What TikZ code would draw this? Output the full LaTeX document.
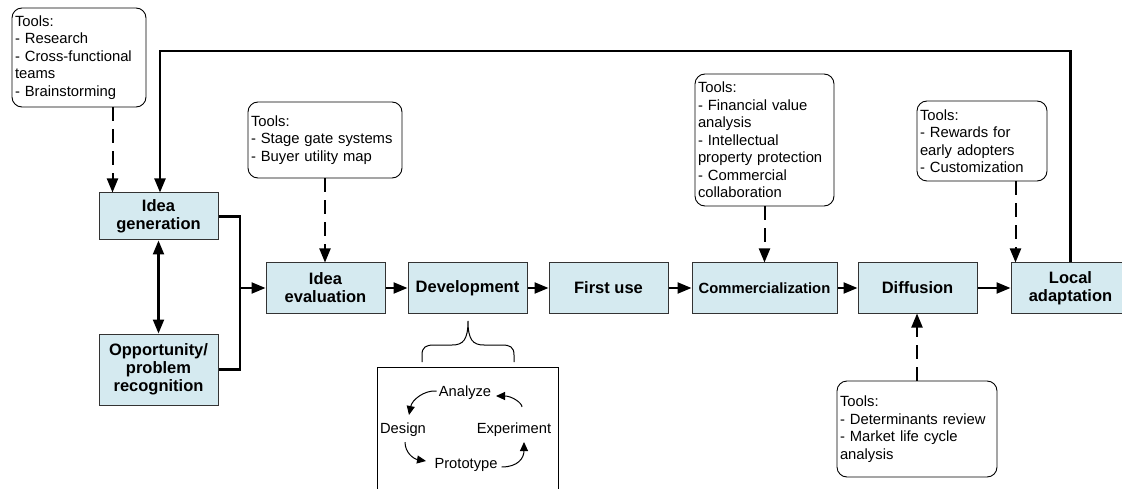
\documentclass[tikz,border=0pt]{standalone}
\usepackage{fontspec}
\setmainfont{Liberation Sans}
\usetikzlibrary{arrows.meta,calc}
\definecolor{boxfill}{RGB}{213,234,240}
\begin{document}
\begin{tikzpicture}[x=1pt,y=-1pt,
 proc/.style={draw=black!80, line width=1pt, fill=boxfill, minimum width=119pt, minimum height=50pt, align=center, inner sep=1pt, font=\fontsize{16.5}{18}\selectfont\bfseries},
 tool/.style={draw, line width=0.9pt, rounded corners=10pt, align=left, inner xsep=3pt, inner ysep=0pt, font=\fontsize{14.8}{17.5}\selectfont},
 arr/.style={line width=2.2pt, -{Triangle[length=14pt,width=11pt]}},
 line/.style={line width=2.2pt},
 darr/.style={line width=2.2pt, {Triangle[length=14pt,width=11pt]}-{Triangle[length=14pt,width=11pt]}},
 dsh/.style={line width=2pt, dash pattern=on 14pt off 8pt, -{Triangle[length=14pt,width=11pt]}},
 cyc/.style={font=\fontsize{14.7}{17}\selectfont, inner sep=1pt},
 carr/.style={line width=1pt, -{Triangle[length=9pt,width=8pt]}},
 thin/.style={line width=1pt},
]
\useasboundingbox (0,0) rectangle (1122,489);

% main process boxes
\node[proc, minimum height=47pt] (gen) at (158.5,216.5) {Idea\\generation};
\node[proc, minimum height=71pt] (opp) at (158.5,369.5) {Opportunity/\\problem\\recognition};
\node[proc] (eva) at (325.5,288) {Idea\\evaluation};
\node[proc] (dev) at (467.5,288) {Development};
\node[proc] (fir) at (608.5,288) {First use};
\node[proc, minimum width=145pt, font=\fontsize{14.8}{18}\selectfont\bfseries] (com) at (764.5,288) {Commercialization};
\node[proc] (dif) at (917.5,288) {Diffusion};
\node[proc] (loc) at (1070.5,288) {Local\\adaptation};

% tool boxes
\node[tool, text width=128pt, minimum height=99pt] (t1) at (79,57.5) {Tools:\\- Research\\- Cross-functional\\teams\\- Brainstorming};
\node[tool, text width=148pt, minimum height=76pt] (t2) at (325,140) {Tools:\\- Stage gate systems\\- Buyer utility map};
\node[tool, text width=133pt, minimum height=132pt] (t3) at (764.5,140) {Tools:\\- Financial value\\analysis\\- Intellectual\\property protection\\- Commercial\\collaboration};
\node[tool, text width=124pt, minimum height=80pt] (t4) at (982,141) {Tools:\\- Rewards for\\early adopters\\- Customization};
\node[tool, text width=154pt, minimum height=96pt] (t5) at (917,429) {Tools:\\- Determinants review\\- Market life cycle\\analysis};

% process flow
\coordinate (j) at (240,288);
\draw[line] (gen.east) -| (j) |- (opp.east);
\draw[arr] (j) -- (eva.west);
\draw[darr] (gen.south) -- (opp.north);
\draw[arr] (eva.east) -- (dev.west);
\draw[arr] (dev.east) -- (fir.west);
\draw[arr] (fir.east) -- (com.west);
\draw[arr] (com.east) -- (dif.west);
\draw[arr] (dif.east) -- (loc.west);

% feedback loop
\coordinate (fb) at (600,51);
\draw[arr] (loc.north) |- (fb) -| ($(gen.north)+(1.5,0)$);

% tool connectors
\coordinate (g1) at ($(gen.north west)+(14,0)$);
\draw[dsh] (t1.south -| g1) -- (g1);
\draw[dsh] (t2.south) -- (t2.south |- eva.north);
\draw[dsh] (t3.south) -- (com.north);
\coordinate (l1) at ($(loc.north west)+(5,0)$);
\draw[dsh] (t4.south -| l1) -- (l1);
\draw[dsh] (t5.north) -- (t5.north |- dif.south);

% development detail
\draw[thin] (377,500) -- (377,367) -- (558,367) -- (558,500);
\draw[thin] (422,362) -- (422,355) .. controls (422,347) and (426,345) .. (434,345) -- (452,345)
  .. controls (463,345) and (468,340) .. (468,321)
  .. controls (468,340) and (473,345) .. (484,345) -- (502,345)
  .. controls (510,345) and (514,347) .. (514,355) -- (514,362);
\node[cyc] (an) at (465,393) {Analyze};
\node[cyc] (de) at (403,430) {Design};
\node[cyc] (ex) at (514,430) {Experiment};
\node[cyc] (pr) at (466,465) {Prototype};
\coordinate (a1) at (409,415);
\coordinate (a2) at (426,461);
\coordinate (a3) at (524,442);
\coordinate (a4) at (496,396);
\draw[carr] ($(an.west)+(-1,-2)$) .. controls (424,390) and (412,400) .. (a1);
\draw[carr] ($(de.south)+(2,4)$) .. controls (405,453) and (414,459) .. (a2);
\draw[carr] ($(pr.east)+(3,2)$) .. controls (518,467) and (524,458) .. (a3);
\draw[carr] ($(ex.north)+(8,-15)$) .. controls (522,403) and (512,396) .. (a4);
\end{tikzpicture}
\end{document}
